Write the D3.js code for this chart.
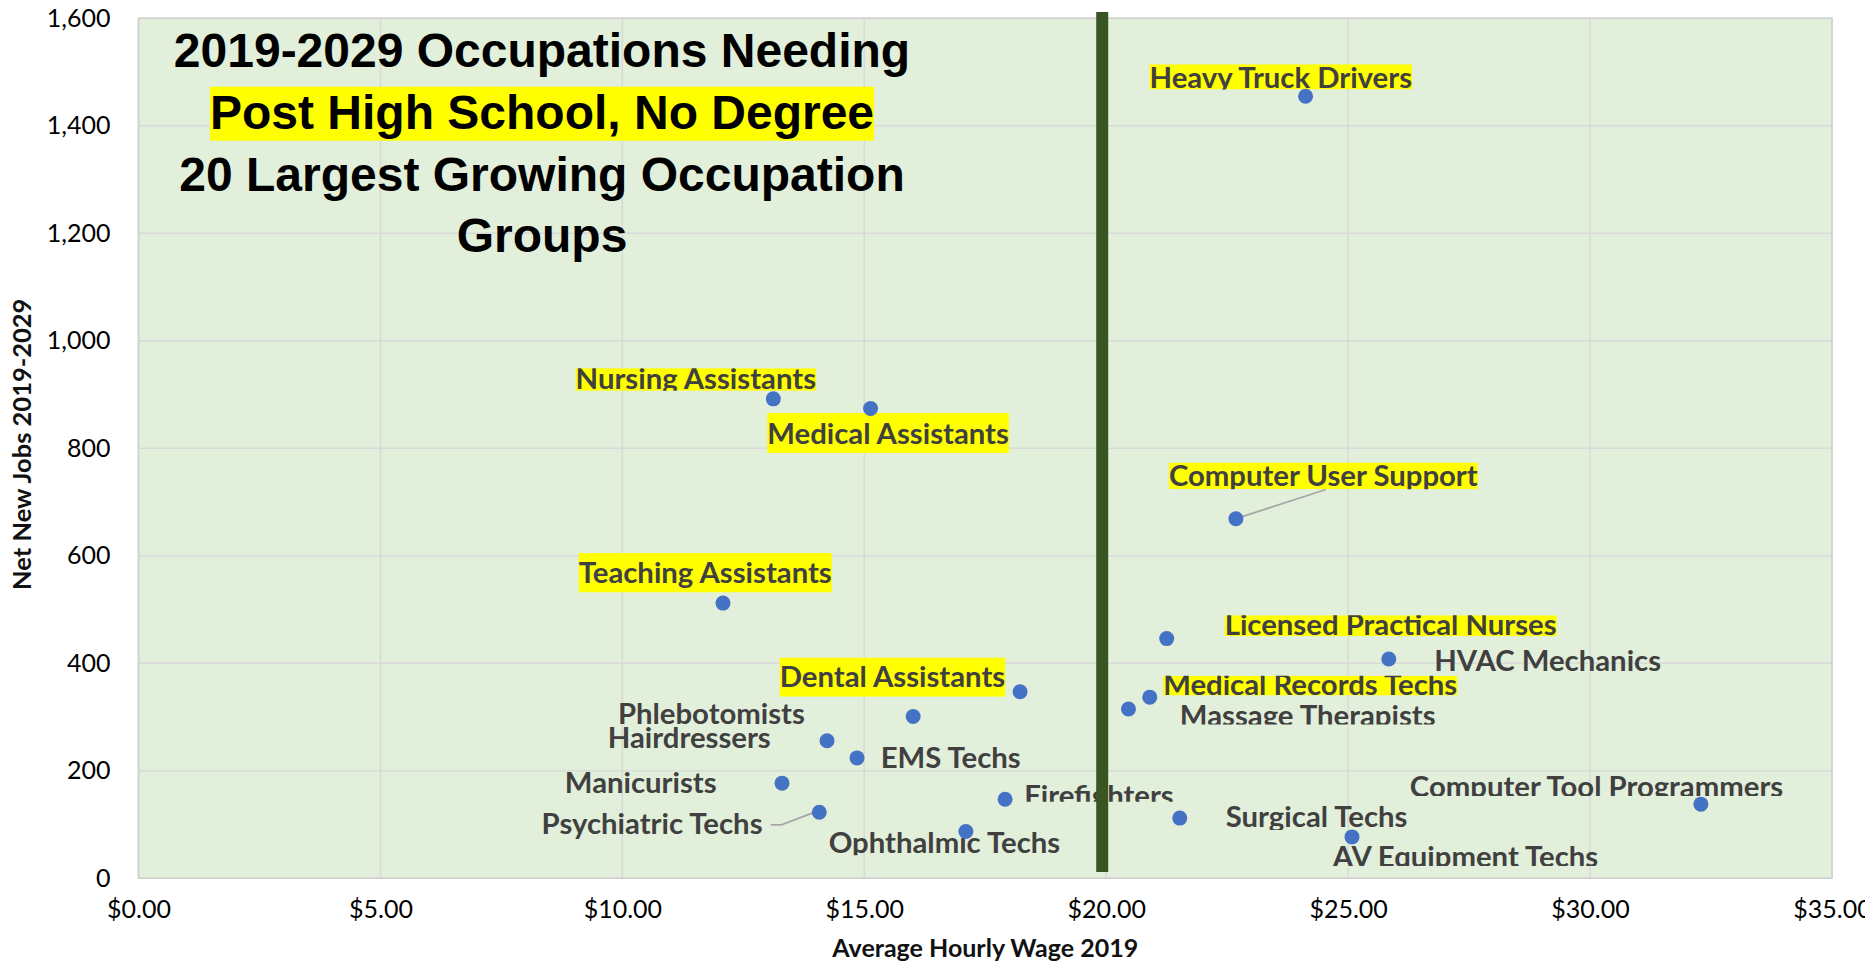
<!DOCTYPE html>
<html>
<head>
<meta charset="utf-8">
<script src="https://cdn.jsdelivr.net/npm/d3@7"></script>
<style>
  html, body { margin: 0; padding: 0; background: #ffffff; }
  svg { display: block; }
</style>
</head>
<body>
<div id="chart"></div>
<script>
// occupations needing post high school training, 2019-2029
const occupations = [
  "Heavy Truck Drivers", "Nursing Assistants", "Medical Assistants", "Computer User Support",
  "Teaching Assistants", "Licensed Practical Nurses", "HVAC Mechanics", "Medical Records Techs",
  "Massage Therapists", "Computer Tool Programmers", "Surgical Techs", "AV Equipment Techs",
  "Dental Assistants", "Phlebotomists", "Hairdressers", "EMS Techs",
  "Manicurists", "Psychiatric Techs", "Firefighters", "Ophthalmic Techs"
];
const hourlyWage = [
  24.12, 13.12, 15.13, 22.68,
  12.08, 21.25, 25.84, 20.90,
  20.46, 32.29, 21.52, 25.08,
  18.22, 16.01, 14.23, 14.85,
  13.30, 14.07, 17.91, 17.10
];
const netNewJobs = [
  1455, 892, 874, 669,
  512, 446, 408, 337,
  315, 138, 112, 77,
  347, 301, 256, 224,
  177, 123, 147, 87
];
const highlighted = [
  true, true, true, true,
  true, true, false, true,
  false, false, false, false,
  true, false, false, false,
  false, false, false, false
];

const xTickValues = [0, 5, 10, 15, 20, 25, 30, 35];
const yTickValues = [0, 200, 400, 600, 800, 1000, 1200, 1400, 1600];
const wageThreshold = 20;

const titleLines = [
  "2019-2029 Occupations Needing",
  "Post High School, No Degree",
  "20 Largest Growing Occupation",
  "Groups"
];
const xAxisTitle = "Average Hourly Wage 2019";
const yAxisTitle = "Net New Jobs 2019-2029";

// manual label placement, px from the point: [dx to left edge, dy to baseline, box top, box bottom]
const labelLayout = [
  [-156, -8.7, -23.3, 2],
  [-197.7, -9.7, -21, 1.7],
  [-103.3, 35, -30.6, 9.4],
  [-67, -32.5, -23.7, 3],
  [-144.3, -20, -30, 9.4],
  [58, -3.3, -20, 1],
  [45.5, 11.7, -30, 10],
  [13.4, -2.3, -19, 0.7],
  [51.4, 17.5, -30, -2],
  [-291, -7.5, -30, -0.7],
  [46, 9.3, -30, 2.7],
  [-19.2, 30.3, -30, -1.3],
  [-240.4, -5, -29.4, 10],
  [-295.2, 7.6, -30, 10],
  [-219.3, 7, -30, 10],
  [23.6, 10, -30, 10],
  [-217.2, 10, -30, 10],
  [-277.7, 22, -30, 10],
  [19.1, 6.4, -30, -4],
  [-137.2, 21.6, -30, 2]
];

const width = 1865, height = 963;
const plot = { left: 138.5, right: 1832, top: 18.3, bottom: 878.3 };

const x = d3.scaleLinear().domain([0, 35]).range([plot.left, plot.right]);
const y = d3.scaleLinear().domain([0, 1600]).range([plot.bottom, plot.top]);

const svg = d3.select("#chart").append("svg")
  .attr("width", width)
  .attr("height", height);

svg.append("rect")
  .attr("width", width).attr("height", height)
  .attr("fill", "#ffffff");

// plot area
svg.append("rect")
  .attr("x", plot.left).attr("y", plot.top)
  .attr("width", plot.right - plot.left)
  .attr("height", plot.bottom - plot.top)
  .attr("fill", "#e2efda");

// gridlines
svg.append("g")
  .selectAll("line")
  .data(yTickValues)
  .join("line")
  .attr("x1", plot.left).attr("x2", plot.right)
  .attr("y1", d => y(d)).attr("y2", d => y(d))
  .attr("stroke", "#d9d9d9").attr("stroke-width", 1.5);

svg.append("g")
  .selectAll("line")
  .data(xTickValues)
  .join("line")
  .attr("x1", d => x(d)).attr("x2", d => x(d))
  .attr("y1", plot.top).attr("y2", plot.bottom)
  .attr("stroke", "#d9d9d9").attr("stroke-width", 1.5);

svg.append("rect")
  .attr("x", plot.left).attr("y", plot.top)
  .attr("width", plot.right - plot.left)
  .attr("height", plot.bottom - plot.top)
  .attr("fill", "none")
  .attr("stroke", "#cfcfcf").attr("stroke-width", 1.5);

// axes
const yAxis = svg.append("g")
  .attr("transform", `translate(${plot.left},0)`)
  .call(d3.axisLeft(y).tickValues(yTickValues).tickFormat(d3.format(",")).tickSize(0).tickPadding(28));
const xAxis = svg.append("g")
  .attr("transform", `translate(0,${plot.bottom})`)
  .call(d3.axisBottom(x).tickValues(xTickValues).tickFormat(d => "$" + d3.format(".2f")(d)).tickSize(0).tickPadding(22));

[yAxis, xAxis].forEach(ax => {
  ax.select(".domain").remove();
  ax.selectAll("text")
    .attr("font-family", "Lato, 'Open Sans', sans-serif")
    .attr("font-size", 25)
    .attr("fill", "#000000");
});

svg.append("text")
  .attr("x", (plot.left + plot.right) / 2)
  .attr("y", 957)
  .attr("text-anchor", "middle")
  .attr("font-family", "Lato, sans-serif")
  .attr("font-weight", 700)
  .attr("font-size", 25)
  .attr("fill", "#111111")
  .text(xAxisTitle);

svg.append("text")
  .attr("transform", `translate(31,${(plot.top + plot.bottom) / 2 - 4}) rotate(-90)`)
  .attr("text-anchor", "middle")
  .attr("font-family", "Lato, sans-serif")
  .attr("font-weight", 700)
  .attr("font-size", 25.5)
  .attr("fill", "#111111")
  .text(yAxisTitle);

// title block
const titleX = 542;
const titleBase = [67, 129, 191, 252];
const titleG = svg.append("g");
const titleText = titleG.selectAll("text")
  .data(titleLines)
  .join("text")
  .attr("x", titleX)
  .attr("y", (d, i) => titleBase[i])
  .attr("text-anchor", "middle")
  .attr("font-family", "'Liberation Sans', Arial, sans-serif")
  .attr("font-weight", 700)
  .attr("font-size", 48)
  .attr("fill", "#000000")
  .text(d => d);

const hlWidth = titleText.filter((d, i) => i === 1).node().getComputedTextLength();
titleG.insert("rect", "text")
  .attr("x", titleX - hlWidth / 2)
  .attr("y", titleBase[1] - 42.3)
  .attr("width", hlWidth)
  .attr("height", 54)
  .attr("fill", "#ffff00");

// points
const points = occupations.map((name, i) => ({
  name,
  wage: hourlyWage[i],
  jobs: netNewJobs[i],
  hl: highlighted[i],
  lay: labelLayout[i]
}));

// leader lines
const leaders = svg.append("g")
  .attr("fill", "none")
  .attr("stroke", "#a6a6a6")
  .attr("stroke-width", 1.8);

const cus = points[3];
leaders.append("path")
  .attr("d", d3.line()([
    [x(cus.wage) + cus.lay[0] + 157, y(cus.jobs) + cus.lay[1] + 3.3],
    [x(cus.wage), y(cus.jobs)]
  ]));

const psy = points[17];
leaders.append("path")
  .attr("d", d3.line()([
    [x(psy.wage) - 48.5, y(psy.jobs) + 12.7],
    [x(psy.wage) - 38, y(psy.jobs) + 12.7],
    [x(psy.wage) - 3, y(psy.jobs) - 0.6]
  ]));

// data labels
const defs = svg.append("defs");
const labelG = svg.append("g");

points.forEach((p, i) => {
  const lx = x(p.wage) + p.lay[0];
  const by = y(p.jobs) + p.lay[1];
  const top = by + p.lay[2];
  const bottom = by + p.lay[3];

  defs.append("clipPath")
    .attr("id", "clip" + i)
    .append("rect")
    .attr("x", lx - 5).attr("y", top)
    .attr("width", 500).attr("height", bottom - top);

  const g = labelG.append("g").attr("clip-path", `url(#clip${i})`);
  const box = g.append("rect");
  const t = g.append("text")
    .attr("x", lx)
    .attr("y", by)
    .attr("font-family", "Lato, 'Open Sans', sans-serif")
    .attr("font-weight", 700)
    .attr("font-size", 29.3)
    .attr("fill", "#404040")
    .text(p.name);

  const w = t.node().getComputedTextLength();
  if (p.hl) {
    box.attr("x", lx).attr("y", top)
      .attr("width", w).attr("height", bottom - top)
      .attr("fill", "#ffff00");
  } else {
    box.remove();
  }
});

svg.append("g")
  .selectAll("circle")
  .data(points)
  .join("circle")
  .attr("cx", d => x(d.wage))
  .attr("cy", d => y(d.jobs))
  .attr("r", 7.5)
  .attr("fill", "#4472c4");

// dividing line at the $20 wage mark (hand placed shape, sits a little left of the gridline)
svg.append("rect")
  .attr("x", x(wageThreshold) - 4 - 6)
  .attr("y", 12)
  .attr("width", 12)
  .attr("height", 872 - 12)
  .attr("fill", "#375623");
</script>
</body>
</html>
